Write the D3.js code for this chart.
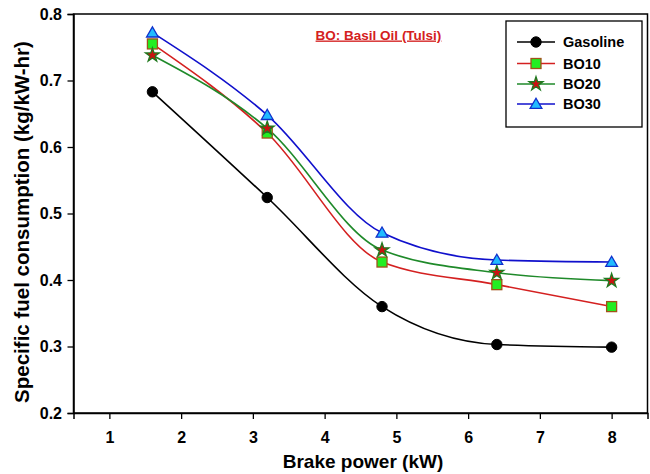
<!DOCTYPE html>
<html><head><meta charset="utf-8">
<script src="https://cdn.jsdelivr.net/npm/d3@7"></script>
<style>
html,body{margin:0;padding:0;background:#fff;}
svg{display:block;font-family:"Liberation Sans",Arial,sans-serif;}
</style></head>
<body>
<svg id="c" width="650" height="474"></svg>
<script>
const brakePower = [1.6, 3.2, 4.8, 6.4, 8];
const gasoline = [0.683, 0.524, 0.360, 0.303, 0.299];
const bo10 = [0.755, 0.621, 0.427, 0.393, 0.360];
const bo20 = [0.738, 0.628, 0.445, 0.411, 0.399];
const bo30 = [0.772, 0.648, 0.471, 0.430, 0.427];
const seriesNames = ["Gasoline", "BO10", "BO20", "BO30"];
const xTicks = [1, 2, 3, 4, 5, 6, 7, 8];
const yTicks = [0.2, 0.3, 0.4, 0.5, 0.6, 0.7, 0.8];

const styles = {
  Gasoline: {line: "#000000", fill: "#000000", stroke: "#000000", shape: "circle"},
  BO10: {line: "#d42020", fill: "#22ee22", stroke: "#a0521a", shape: "square"},
  BO20: {line: "#1f8a2a", fill: "#cc1111", stroke: "#1f7a1f", shape: "star"},
  BO30: {line: "#1010cc", fill: "#22bbff", stroke: "#1030cc", shape: "triangle"}
};
const seriesData = [gasoline, bo10, bo20, bo30];

const svg = d3.select("#c");
const L = 73.5, R = 647.5, T = 14, B = 413;
const x = d3.scaleLinear().domain([0.5, 8.5]).range([L, R]);
const y = d3.scaleLinear().domain([0.2, 0.8]).range([B, T]);

// frame
svg.append("rect").attr("x", L).attr("y", T).attr("width", R - L).attr("height", B - T)
  .attr("fill", "none").attr("stroke", "#000").attr("stroke-width", 1.5);

// axes
const xa = svg.append("g").attr("transform", `translate(0,${B})`)
  .call(d3.axisBottom(x).tickValues(xTicks).tickSize(6).tickPadding(13).tickFormat(d3.format("d")));
const ya = svg.append("g").attr("transform", `translate(${L},0)`)
  .call(d3.axisLeft(y).tickValues(yTicks).tickSize(6).tickPadding(5.5).tickFormat(d3.format(".1f")));
[xa, ya].forEach(g => {
  g.select(".domain").attr("stroke-width", 1.5);
  g.selectAll(".tick line").attr("stroke-width", 1.3);
  g.selectAll(".tick text").attr("font-size", 16).attr("font-weight", "bold")
    .attr("font-family", "Liberation Sans, Arial, sans-serif").attr("fill", "#000");
});

// axis titles
svg.append("text").attr("x", 363).attr("y", 468).attr("text-anchor", "middle")
  .attr("font-size", 19).attr("font-weight", "bold").text("Brake power (kW)");
svg.append("text").attr("transform", "translate(28.5,222) rotate(-90)").attr("text-anchor", "middle")
  .attr("font-size", 20.5).attr("font-weight", "bold").text("Specific fuel consumption (kg/kW-hr)");

// annotation
svg.append("text").attr("x", 378.5).attr("y", 39.5).attr("text-anchor", "middle")
  .attr("font-size", 13.5).attr("font-weight", "bold").attr("fill", "#d42020")
  .attr("text-decoration", "underline").text("BO: Basil Oil (Tulsi)");

const line = d3.line().x(d => x(d[0])).y(d => y(d[1])).curve(d3.curveMonotoneX);

function marker(g, shape, st, cx, cy) {
  if (shape === "circle") {
    g.append("circle").attr("cx", cx).attr("cy", cy).attr("r", 5.2).attr("fill", st.fill).attr("stroke", st.stroke);
  } else if (shape === "square") {
    g.append("rect").attr("x", cx - 5).attr("y", cy - 5).attr("width", 10).attr("height", 10)
      .attr("fill", st.fill).attr("stroke", st.stroke).attr("stroke-width", 1.3);
  } else if (shape === "star") {
    g.append("path").attr("transform", `translate(${cx},${cy})`)
      .attr("d", d3.symbol().type(d3.symbolStar).size(60)())
      .attr("fill", st.fill).attr("stroke", st.stroke).attr("stroke-width", 1.3);
  } else {
    g.append("path").attr("transform", `translate(${cx},${cy + 1})`)
      .attr("d", d3.symbol().type(d3.symbolTriangle).size(60)())
      .attr("fill", st.fill).attr("stroke", st.stroke).attr("stroke-width", 1.3);
  }
}

seriesNames.forEach((name, i) => {
  const st = styles[name];
  const pts = brakePower.map((b, j) => [b, seriesData[i][j]]);
  svg.append("path").datum(pts).attr("d", line).attr("fill", "none")
    .attr("stroke", st.line).attr("stroke-width", 1.6);
});
seriesNames.forEach((name, i) => {
  const st = styles[name];
  const g = svg.append("g");
  brakePower.forEach((b, j) => marker(g, st.shape, st, x(b), y(seriesData[i][j])));
});

// legend
svg.append("rect").attr("x", 506).attr("y", 21).attr("width", 136).attr("height", 106)
  .attr("fill", "#fff").attr("stroke", "#000").attr("stroke-width", 1.3);
const legY = [42, 63.5, 84, 104];
seriesNames.forEach((name, i) => {
  const st = styles[name];
  const g = svg.append("g");
  g.append("line").attr("x1", 517).attr("x2", 555).attr("y1", legY[i]).attr("y2", legY[i])
    .attr("stroke", st.line).attr("stroke-width", 1.6);
  marker(g, st.shape, st, 536, legY[i]);
  g.append("text").attr("x", 563).attr("y", legY[i] + 5).attr("font-size", 14.5)
    .attr("font-weight", "bold").text(name);
});
</script>
</body></html>
